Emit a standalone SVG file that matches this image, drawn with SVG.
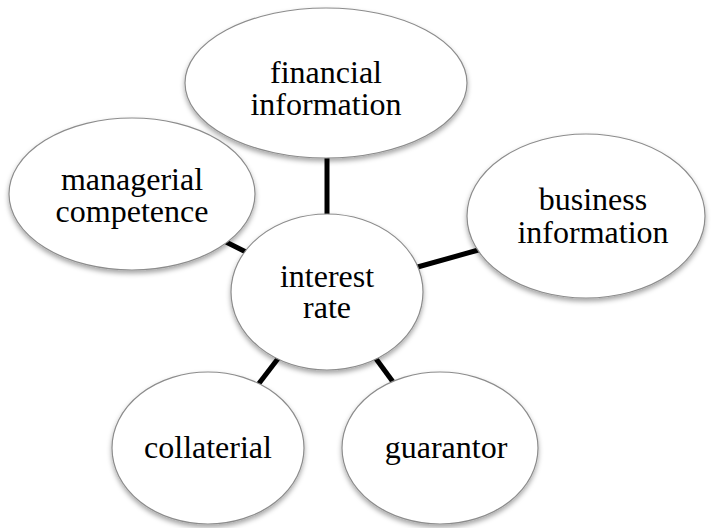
<svg xmlns="http://www.w3.org/2000/svg" width="712" height="528" viewBox="0 0 712 528">
<defs>
<filter id="sh" x="-20%" y="-20%" width="140%" height="150%">
<feDropShadow dx="0" dy="3" stdDeviation="2.5" flood-color="#000" flood-opacity="0.35"/>
</filter>
<style>
.n{fill:#fff;stroke:#8c8c8c;stroke-width:1.2;filter:url(#sh)}
.t{font-family:"Liberation Serif","Times New Roman",serif;font-size:32px;fill:#000;text-anchor:middle}
.c{stroke:#000;stroke-width:5;fill:none}
</style>
</defs>
<rect width="712" height="528" fill="#fff"/>
<g id="connectors">
<line class="c" x1="327" y1="150" x2="327" y2="218"/>
<line class="c" x1="226" y1="242" x2="250" y2="254"/>
<line class="c" x1="414" y1="268" x2="482" y2="249"/>
<line class="c" x1="280" y1="356" x2="257" y2="386"/>
<line class="c" x1="374" y1="356" x2="396" y2="386"/>
</g>
<g id="managerial">
<ellipse class="n" cx="132" cy="194" rx="123" ry="76"/>
<text class="t" x="132" y="190">managerial</text>
<text class="t" x="132" y="222">competence</text>
</g>
<g id="financial">
<ellipse class="n" cx="326" cy="83" rx="141" ry="75"/>
<text class="t" x="326" y="83">financial</text>
<text class="t" x="326" y="115">information</text>
</g>
<g id="business">
<ellipse class="n" cx="586" cy="216" rx="119" ry="82"/>
<text class="t" x="593" y="210">business</text>
<text class="t" x="593" y="243">information</text>
</g>
<g id="interest">
<ellipse class="n" cx="327" cy="292" rx="96" ry="78"/>
<text class="t" x="327" y="287">interest</text>
<text class="t" x="327" y="318">rate</text>
</g>
<g id="collaterial">
<ellipse class="n" cx="208" cy="448" rx="96" ry="76"/>
<text class="t" x="208" y="458">collaterial</text>
</g>
<g id="guarantor">
<ellipse class="n" cx="440" cy="448" rx="98" ry="76"/>
<text class="t" x="446" y="458">guarantor</text>
</g>
</svg>
